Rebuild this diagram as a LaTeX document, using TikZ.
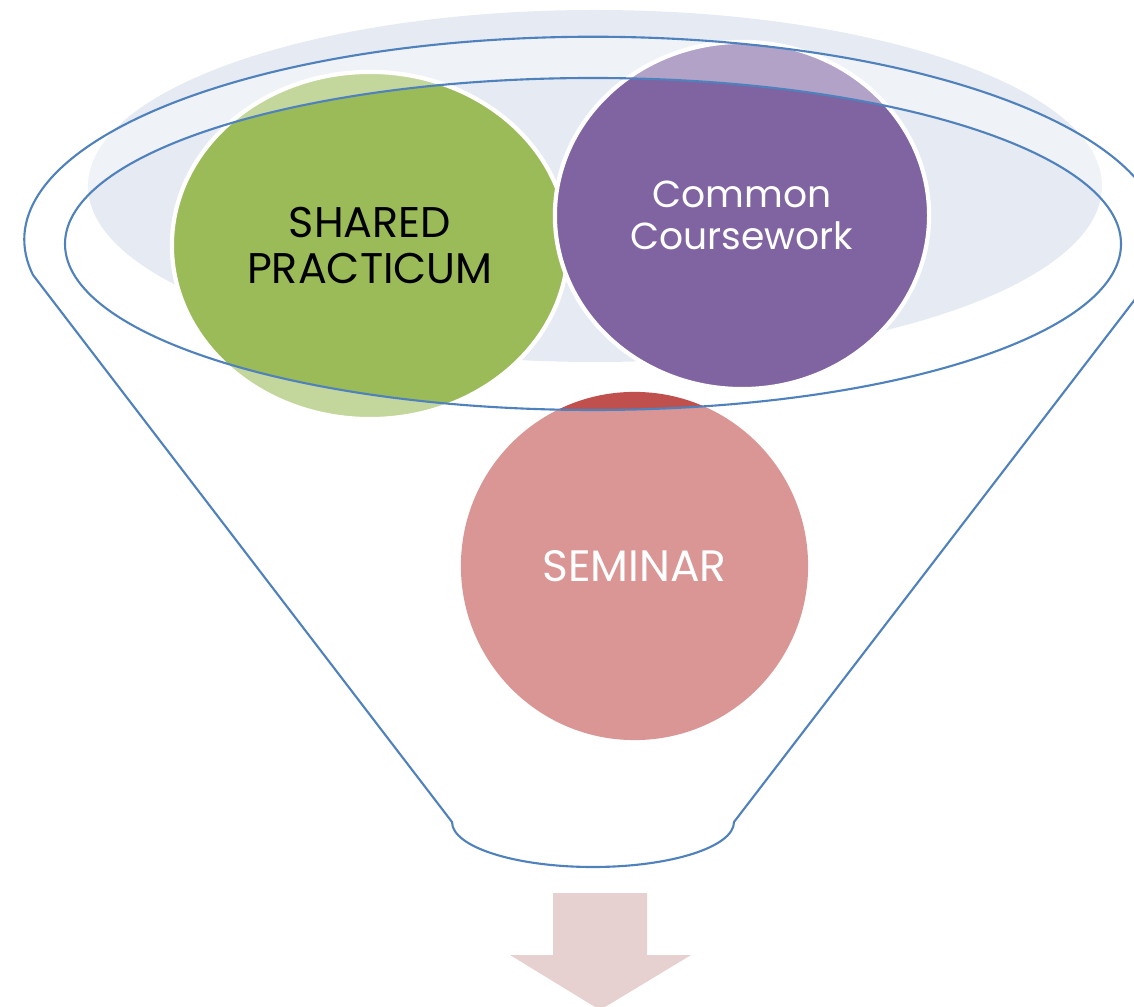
\documentclass[tikz,border=0pt]{standalone}
\usepackage{fontspec}
\setmainfont{Poppins}
\usepackage{tikz}
\usetikzlibrary{shapes.geometric}

\definecolor{funnelblue}{HTML}{4F81BD}
\definecolor{backblue}{RGB}{229,234,243}
\definecolor{practgreen}{HTML}{9BBB59}
\definecolor{coursepurple}{HTML}{8064A2}
\definecolor{seminarred}{HTML}{C0504D}
\definecolor{arrowpink}{RGB}{231,208,208}

\begin{document}
\begin{tikzpicture}[x=0.01cm, y=0.01cm,
  blob/.style={ellipse, inner sep=0pt, align=center, font=\fontsize{12.2}{13.3}\selectfont},
  rim/.style={draw=funnelblue, line width=0.6pt}]

\useasboundingbox (0,0) rectangle (1134,-1007);

% shadow behind the rim
\fill[backblue] (595,-186) ellipse [x radius=507, y radius=176];

\node[blob, fill=practgreen, draw=white, line width=1.2pt, minimum width=3.96cm, minimum height=3.47cm, text=black] (practicum) at (370,-245.5) {SHARED\\PRACTICUM};
\node[blob, fill=coursepurple, draw=white, line width=1.2pt, minimum width=3.74cm, minimum height=3.47cm, text=white, font=\fontsize{10.7}{12}\selectfont] (coursework) at (742,-215.5) {Common\\Coursework};
\node[blob, fill=seminarred, minimum width=3.47cm, minimum height=3.48cm, text=white, font=\fontsize{12.5}{13.5}\selectfont] (seminar) at (634.5,-566) {SEMINAR};

% funnel glass
\fill[white, fill opacity=0.4, even odd rule]
  (33,-275) arc[start angle=190, end angle=-10, x radius=569, y radius=203]
  -- (734,-822) arc[start angle=0, end angle=-180, x radius=141, y radius=45] -- cycle
  (593,-244) ellipse [x radius=528, y radius=166];
\draw[rim] (33,-275) arc[start angle=190, end angle=-10, x radius=569, y radius=203]
  -- (734,-822) arc[start angle=0, end angle=-180, x radius=141, y radius=45] -- cycle;
\draw[rim] (593,-244) ellipse [x radius=528, y radius=166];

% arrow out of the funnel
\fill[arrowpink] (553,-893) -- (647,-893) -- (647,-955) -- (691,-955) -- (600,-1010)
  -- (510,-955) -- (553,-955) -- cycle;

\end{tikzpicture}
\end{document}
